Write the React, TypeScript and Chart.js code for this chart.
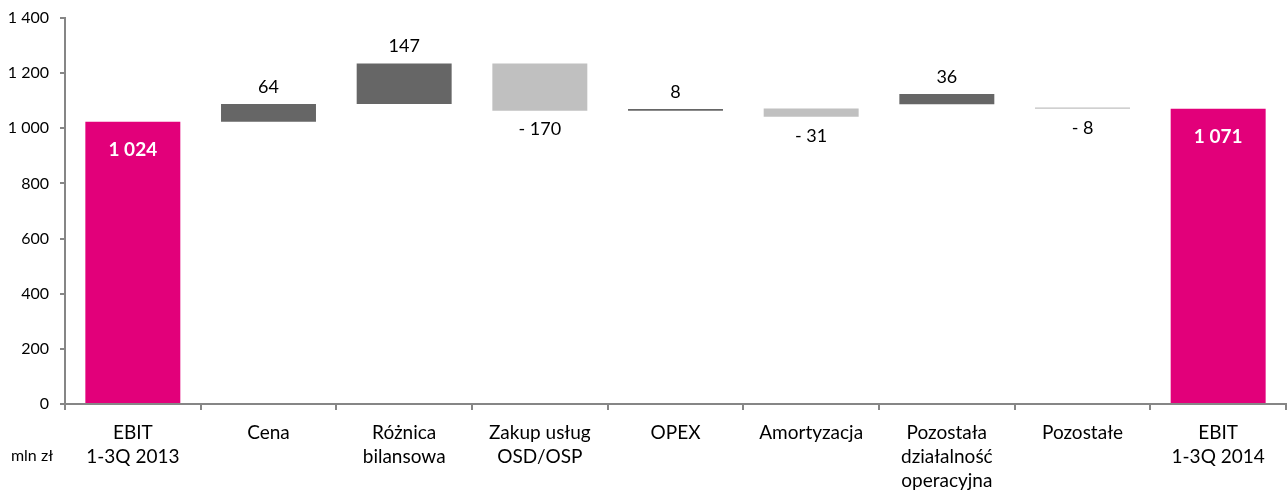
import { useEffect, useRef } from "react";
import { Chart, registerables } from "chart.js";

Chart.register(...registerables);

const categories: string[][] = [
  ["EBIT", "1-3Q 2013"],
  ["Cena"],
  ["Różnica", "bilansowa"],
  ["Zakup usług", "OSD/OSP"],
  ["OPEX"],
  ["Amortyzacja"],
  ["Pozostała", "działalność", "operacyjna"],
  ["Pozostałe"],
  ["EBIT", "1-3Q 2014"],
];

// bar start / end as drawn in the reference (mln zł)
const barStart = [0, 1024, 1088, 1235, 1064, 1072, 1087, 1075, 0];
const barEnd = [1024, 1088, 1235, 1064, 1070, 1042, 1124, 1071, 1071];
const valueLabels = ["1 024", "64", "147", "- 170", "8", "- 31", "36", "- 8", "1 071"];
const barKind = ["total", "up", "up", "down", "up", "down", "up", "down", "total"];

const yTickValues = [0, 200, 400, 600, 800, 1000, 1200, 1400];
const yTickLabels = ["0", "200", "400", "600", "800", "1 000", "1 200", "1 400"];

const unitLabel = "mln zł";

const COLORS: Record<string, string> = {
  total: "#E2007A",
  up: "#666666",
  down: "#C0C0C0",
};
const AXIS = "#868686";
const FONT = "Lato";

const labelPlugin = {
  id: "wfLabels",
  afterDatasetsDraw(chart: any) {
    const ctx = chart.ctx;
    const meta = chart.getDatasetMeta(0);
    ctx.save();
    ctx.textAlign = "center";
    ctx.textBaseline = "middle";
    meta.data.forEach((el: any, i: number) => {
      const top = Math.min(el.y, el.base);
      const bottom = Math.max(el.y, el.base);
      const kind = barKind[i];
      if (kind === "total") {
        ctx.fillStyle = "#FFFFFF";
        ctx.font = `bold 19px ${FONT}`;
        ctx.fillText(valueLabels[i], el.x, top + 28);
      } else if (kind === "up") {
        ctx.fillStyle = "#000000";
        ctx.font = `18px ${FONT}`;
        ctx.fillText(valueLabels[i], el.x, top - 17);
      } else {
        ctx.fillStyle = "#000000";
        ctx.font = `18px ${FONT}`;
        ctx.fillText(valueLabels[i], el.x, bottom + 19);
      }
    });
    // unit label
    ctx.fillStyle = "#000000";
    ctx.font = `16px ${FONT}`;
    ctx.fillText(unitLabel, 32, 456);
    ctx.restore();
  },
};

export default function App() {
  const ref = useRef<HTMLCanvasElement | null>(null);

  useEffect(() => {
    if (!ref.current) return;
    const chart = new Chart(ref.current, {
      type: "bar",
      data: {
        labels: categories,
        datasets: [
          {
            data: barStart.map((s, i) => [s, barEnd[i]]) as any,
            backgroundColor: barKind.map((k) => COLORS[k]),
            borderWidth: 0,
            barPercentage: 0.7,
            categoryPercentage: 1,
          },
        ],
      },
      options: {
        responsive: false,
        animation: false,
        layout: { padding: { top: 18, right: 2, left: 0, bottom: 0 } },
        plugins: {
          legend: { display: false },
          tooltip: { enabled: false },
        },
        scales: {
          x: {
            offset: true,
            grid: {
              display: true,
              drawOnChartArea: false,
              drawTicks: true,
              tickLength: 6,
              offset: true,
              color: AXIS,
              lineWidth: 2,
            },
            border: { display: true, color: AXIS, width: 2 },
            ticks: {
              color: "#000000",
              font: { family: FONT, size: 19, lineHeight: 1.26 },
              padding: 11,
              maxRotation: 0,
              autoSkip: false,
            },
            afterFit: (s: any) => {
              s.height = 92;
              s.paddingLeft = 0;
              s.paddingRight = 0;
            },
          },
          y: {
            min: 0,
            max: 1400,
            afterBuildTicks: (s: any) => {
              s.ticks = yTickValues.map((v) => ({ value: v }));
            },
            grid: {
              display: true,
              drawOnChartArea: false,
              drawTicks: true,
              tickLength: 5,
              color: AXIS,
              lineWidth: 2,
            },
            border: { display: true, color: AXIS, width: 2 },
            ticks: {
              color: "#000000",
              font: { family: FONT, size: 16 },
              padding: 11,
              callback: (v: any) => yTickLabels[yTickValues.indexOf(Number(v))] ?? String(v),
            },
            afterFit: (s: any) => {
              s.width = 65;
              s.paddingTop = 0;
              s.paddingBottom = 0;
            },
          },
        },
      },
      plugins: [labelPlugin],
    });
    return () => chart.destroy();
  }, []);

  return (
    <div style={{ position: "absolute", left: 0, top: 0, width: 1288, height: 496, background: "#fff" }}>
      <canvas ref={ref} width={1288} height={496} style={{ display: "block" }} />
    </div>
  );
}
